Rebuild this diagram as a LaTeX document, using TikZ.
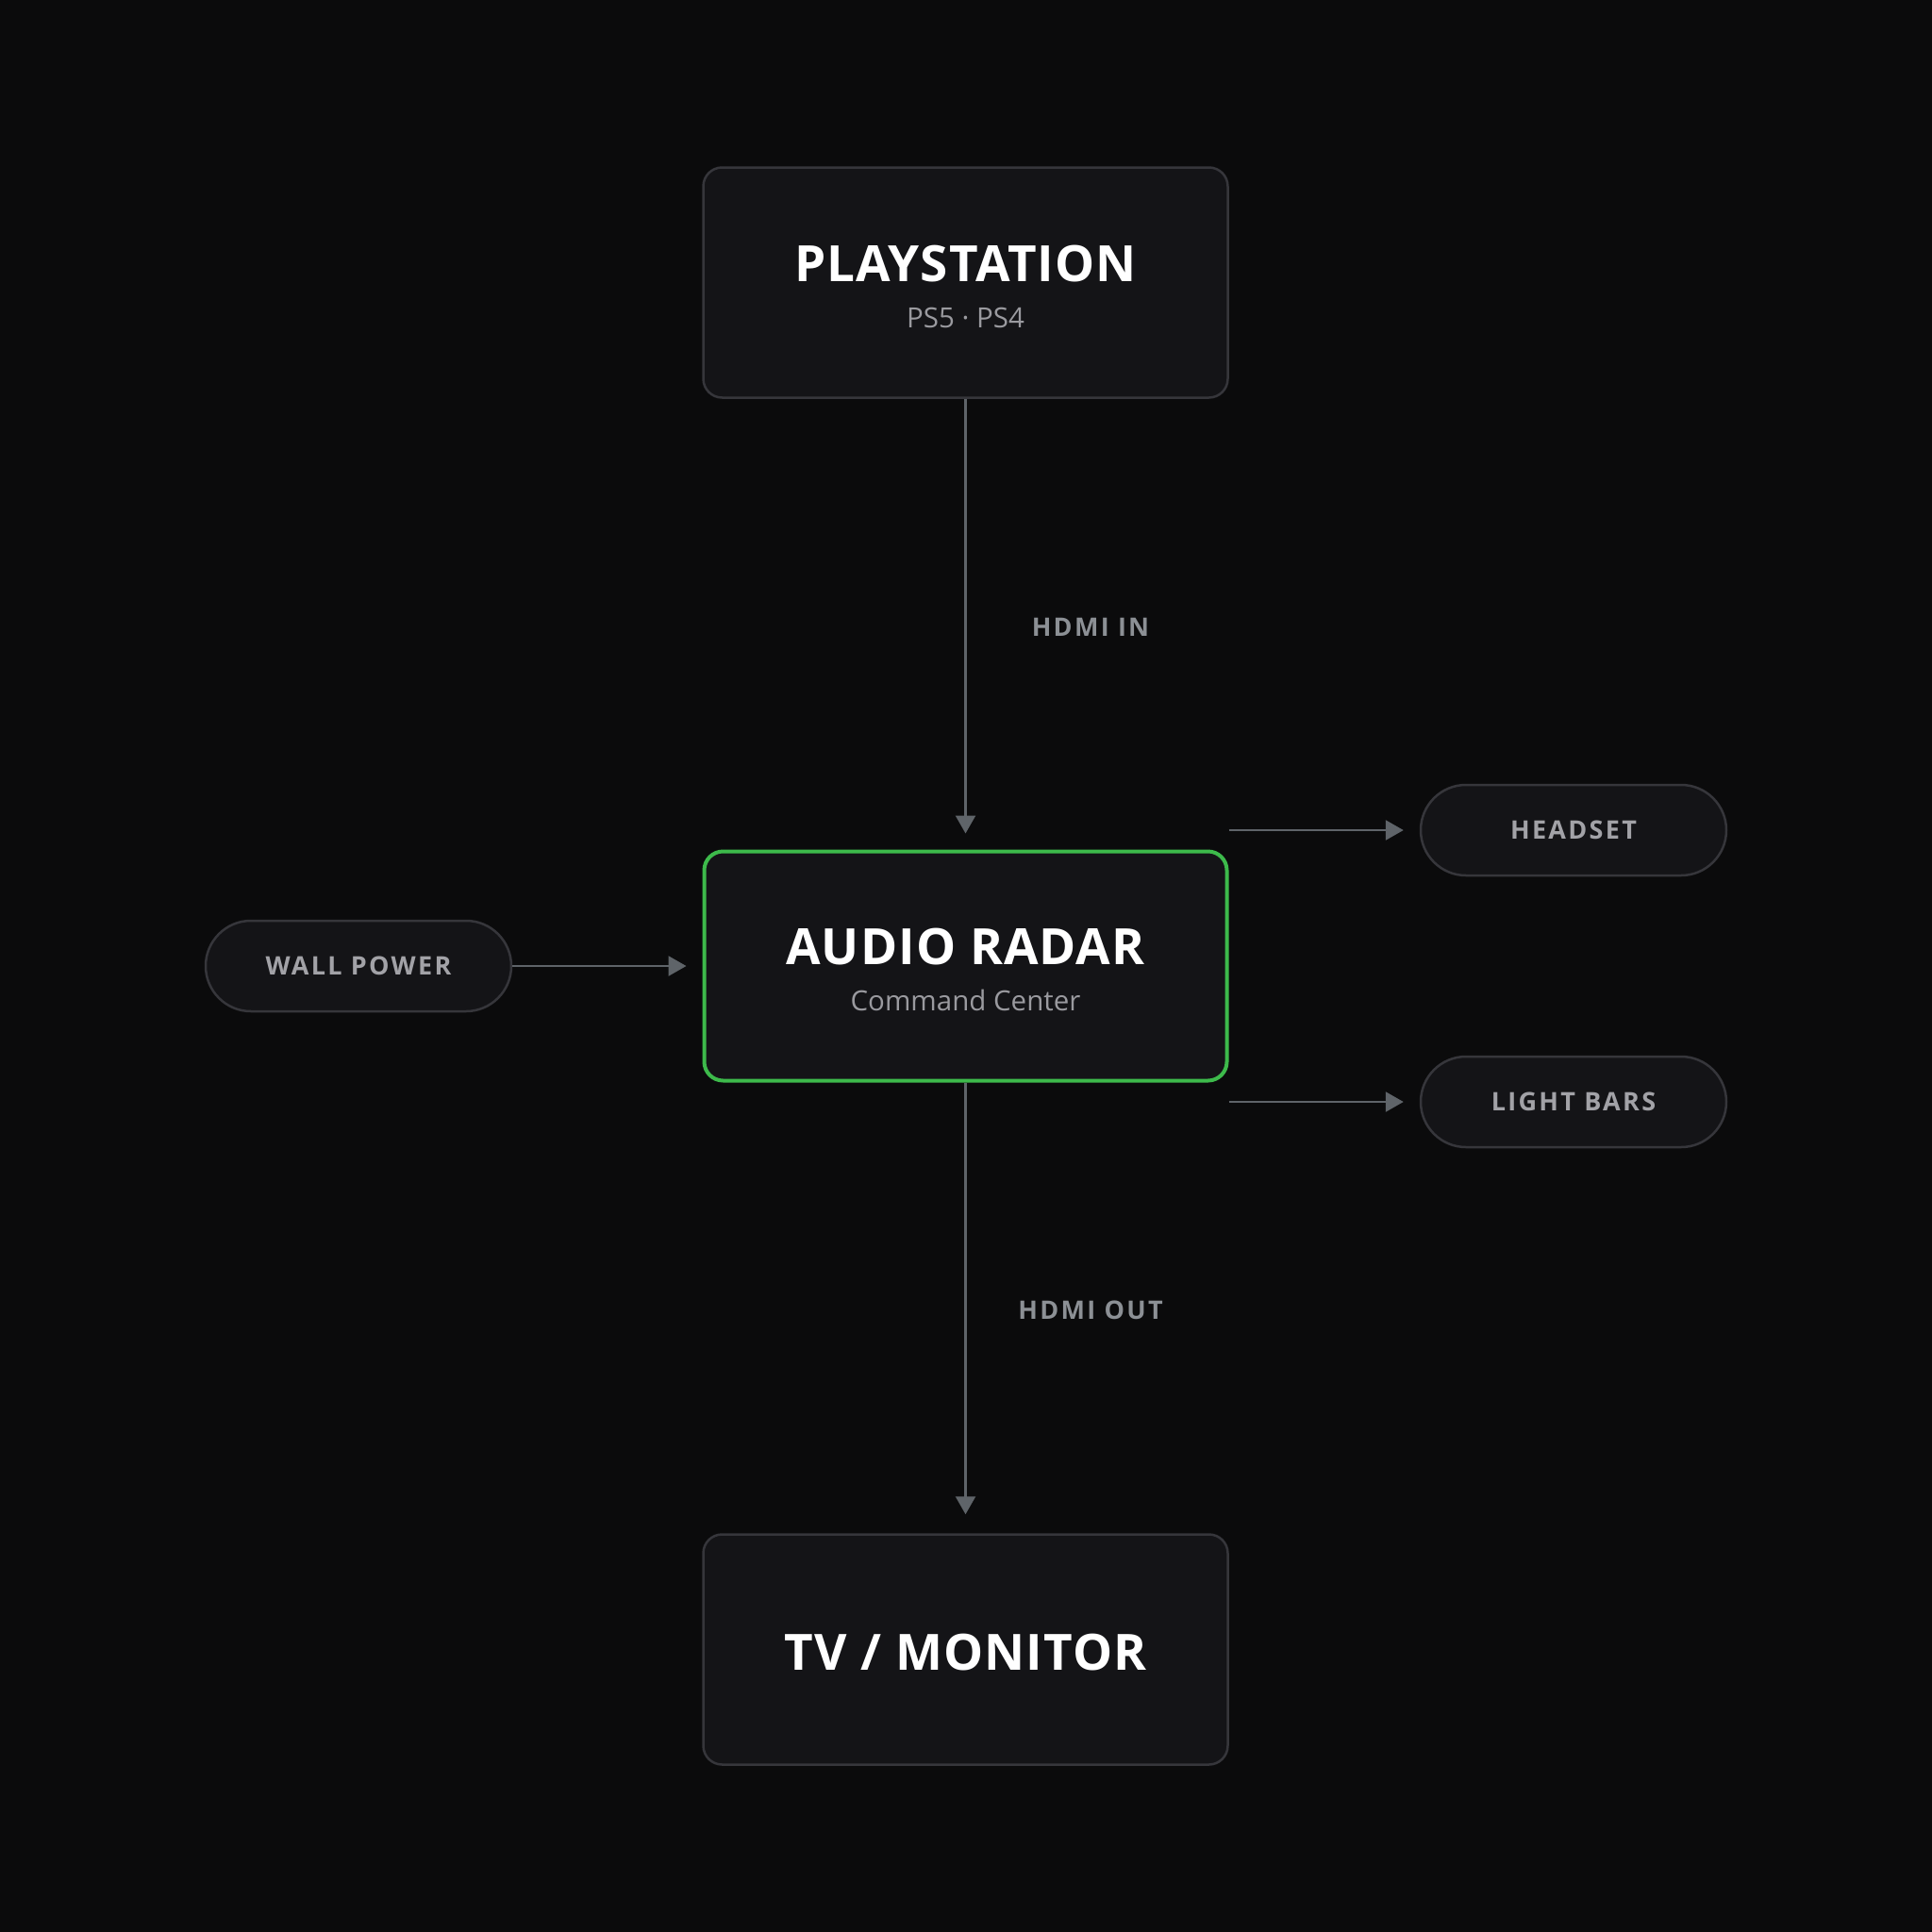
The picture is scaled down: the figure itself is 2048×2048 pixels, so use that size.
\documentclass[tikz,border=0pt]{standalone}
\usepackage{fontspec}
\setmainfont{Open Sans}
\newfontfamily\titlefam[LetterSpace=2]{Open Sans}
\newfontfamily\labelfam[LetterSpace=8.5]{Open Sans}
\usetikzlibrary{arrows.meta}
\definecolor{bg}{HTML}{0B0B0C}
\definecolor{boxfill}{HTML}{141417}
\definecolor{boxline}{HTML}{36363B}
\definecolor{arrowc}{HTML}{5F6469}
\definecolor{labelc}{HTML}{8C9095}
\definecolor{subc}{HTML}{9A9A9F}
\definecolor{pilltext}{HTML}{A2A2A7}
\definecolor{greenc}{HTML}{3DBA4B}
\begin{document}
\begin{tikzpicture}[x=1pt,y=-1pt,
  box/.style={draw=boxline, line width=2.5pt, fill=boxfill, rounded corners=20pt,
    minimum width=556pt, minimum height=244pt, inner sep=0pt},
  mainbox/.style={box, draw=greenc, line width=4pt, minimum width=554pt, minimum height=243pt, rounded corners=20pt},
  pill/.style={draw=boxline, line width=2.5pt, fill=boxfill, rounded corners=48pt,
    minimum width=324pt, minimum height=96pt, inner sep=0pt,
    font=\labelfam\bfseries\fontsize{27}{32}\selectfont, text=pilltext},
  title/.style={anchor=base, inner sep=0pt, text=white, font=\titlefam\bfseries\fontsize{53}{60}\selectfont},
  subtitle/.style={anchor=base, inner sep=0pt, text=subc, font=\fontsize{29.5}{36}\selectfont},
  lbl/.style={anchor=base, inner sep=0pt, text=labelc, font=\labelfam\bfseries\fontsize{27}{32}\selectfont},
  conn/.style={draw=arrowc, line width=2.4pt, -{Triangle[length=19pt,width=21pt]}}
]
\fill[bg] (0,0) rectangle (2048,2048);
\useasboundingbox (0,0) rectangle (2048,2048);

% main boxes
\node[box] (ps) at (1023.5,299.5) {};
\node[title] (pst) at (1023.5,298) {PLAYSTATION};
\node[subtitle] (pss) at (1023.5,347) {PS5 · PS4};

\node[mainbox] (au) at (1023.5,1024) {};
\node[title] (aut) at (1023.5,1022) {AUDIO RADAR};
\node[subtitle] (aus) at (1023.5,1071) {Command Center};

\node[box] (tv) at (1023.5,1748.5) {};
\node[title] (tvt) at (1023.5,1770) {TV / MONITOR};

% pills
\node[pill] (wp) at (380,1024) {WALL POWER};
\node[pill] (hs) at (1668,880) {HEADSET};
\node[pill] (lb) at (1668,1168) {LIGHT BARS};

% connector labels
\node[lbl] (hin) at (1156,674) {HDMI IN};
\node[lbl] (hout) at (1156,1398) {HDMI OUT};

% connectors
\draw[conn, shorten >=17pt] (ps.south) -- (au.north);
\draw[conn, shorten >=20pt] (au.south) -- (tv.north);
\draw[conn, shorten >=17pt] (wp.east) -- (au.west);
\coordinate (hsstart) at (au.east |- hs.west);
\coordinate (lbstart) at (au.east |- lb.west);
\draw[conn, shorten >=17pt] (hsstart) -- (hs.west);
\draw[conn, shorten >=17pt] (lbstart) -- (lb.west);
\end{tikzpicture}
\end{document}
